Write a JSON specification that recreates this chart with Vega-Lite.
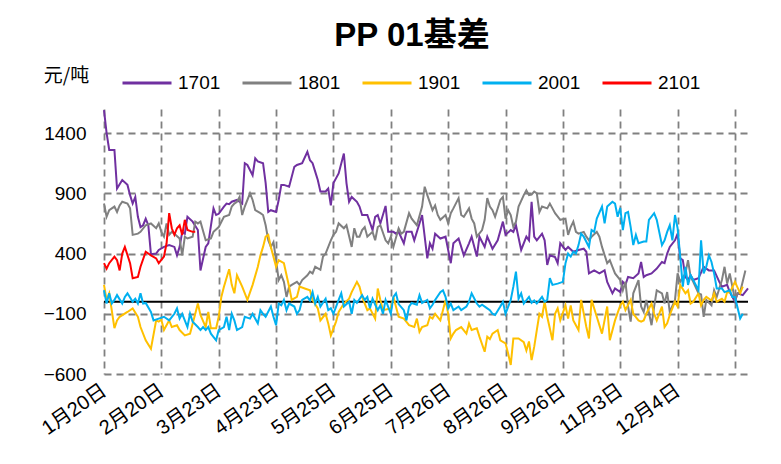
{
"$schema": "https://vega.github.io/schema/vega-lite/v6.json",
"width": 644, "height": 265,
"autosize": {"type": "none"},
"padding": {"left": 104, "top": 109, "right": 33, "bottom": 90},
"background": "white",
"title": {"text": "PP 01基差", "fontSize": 33, "fontWeight": "bold", "font": "Liberation Sans, Noto Sans CJK SC", "anchor": "middle", "frame": "group", "dx": -14, "offset": 4, "color": "black"},
"config": {"view": {"stroke": null}, "axis": {"labelColor": "black", "labelFont": "Liberation Sans, Noto Sans CJK SC"}},
"layer": [
{"data": {"values": [{"zero": 0}]}, "mark": {"type": "rule", "color": "black", "strokeWidth": 2}, "encoding": {"y": {"field": "zero", "type": "quantitative"}}},
{"data": {"values": [
{"c":"1701","d":0,"v":1590},{"c":"1701","d":1,"v":1400},{"c":"1701","d":2,"v":1260},{"c":"1701","d":4,"v":1260},{"c":"1701","d":5,"v":940},{"c":"1701","d":7,"v":1010},{"c":"1701","d":9,"v":970},{"c":"1701","d":10,"v":885},{"c":"1701","d":11,"v":815},{"c":"1701","d":12,"v":870},{"c":"1701","d":13,"v":705},{"c":"1701","d":14,"v":620},{"c":"1701","d":15,"v":635},{"c":"1701","d":16,"v":690},{"c":"1701","d":17,"v":635},{"c":"1701","d":18,"v":395},{"c":"1701","d":20,"v":400},{"c":"1701","d":21,"v":430},{"c":"1701","d":23,"v":455},{"c":"1701","d":25,"v":470},{"c":"1701","d":27,"v":455},{"c":"1701","d":28,"v":385},{"c":"1701","d":29,"v":455},{"c":"1701","d":30,"v":580},{"c":"1701","d":31,"v":565},{"c":"1701","d":32,"v":705},{"c":"1701","d":34,"v":665},{"c":"1701","d":36,"v":595},{"c":"1701","d":37,"v":260},{"c":"1701","d":39,"v":455},{"c":"1701","d":40,"v":485},{"c":"1701","d":42,"v":775},{"c":"1701","d":43,"v":720},{"c":"1701","d":44,"v":730},{"c":"1701","d":46,"v":790},{"c":"1701","d":47,"v":815},{"c":"1701","d":48,"v":810},{"c":"1701","d":49,"v":830},{"c":"1701","d":51,"v":845},{"c":"1701","d":53,"v":815},{"c":"1701","d":54,"v":1150},{"c":"1701","d":55,"v":1135},{"c":"1701","d":57,"v":1050},{"c":"1701","d":58,"v":1190},{"c":"1701","d":59,"v":1165},{"c":"1701","d":61,"v":1150},{"c":"1701","d":62,"v":985},{"c":"1701","d":63,"v":745},{"c":"1701","d":64,"v":760},{"c":"1701","d":66,"v":745},{"c":"1701","d":67,"v":845},{"c":"1701","d":68,"v":970},{"c":"1701","d":69,"v":970},{"c":"1701","d":71,"v":955},{"c":"1701","d":73,"v":1120},{"c":"1701","d":74,"v":1135},{"c":"1701","d":76,"v":1150},{"c":"1701","d":78,"v":1245},{"c":"1701","d":79,"v":1175},{"c":"1701","d":80,"v":1150},{"c":"1701","d":81,"v":1080},{"c":"1701","d":82,"v":1010},{"c":"1701","d":83,"v":915},{"c":"1701","d":85,"v":915},{"c":"1701","d":86,"v":940},{"c":"1701","d":87,"v":800},{"c":"1701","d":88,"v":985},{"c":"1701","d":90,"v":1065},{"c":"1701","d":92,"v":1230},{"c":"1701","d":93,"v":985},{"c":"1701","d":94,"v":830},{"c":"1701","d":95,"v":870},{"c":"1701","d":97,"v":830},{"c":"1701","d":98,"v":790},{"c":"1701","d":99,"v":720},{"c":"1701","d":101,"v":720},{"c":"1701","d":103,"v":595},{"c":"1701","d":104,"v":705},{"c":"1701","d":105,"v":720},{"c":"1701","d":106,"v":650},{"c":"1701","d":108,"v":795},{"c":"1701","d":109,"v":580},{"c":"1701","d":111,"v":580},{"c":"1701","d":112,"v":565},{"c":"1701","d":113,"v":580},{"c":"1701","d":115,"v":485},{"c":"1701","d":116,"v":580},{"c":"1701","d":118,"v":580},{"c":"1701","d":119,"v":510},{"c":"1701","d":121,"v":650},{"c":"1701","d":122,"v":720},{"c":"1701","d":124,"v":360},{"c":"1701","d":125,"v":485},{"c":"1701","d":126,"v":440},{"c":"1701","d":127,"v":565},{"c":"1701","d":129,"v":525},{"c":"1701","d":131,"v":540},{"c":"1701","d":133,"v":320},{"c":"1701","d":134,"v":485},{"c":"1701","d":136,"v":525},{"c":"1701","d":137,"v":455},{"c":"1701","d":138,"v":385},{"c":"1701","d":140,"v":485},{"c":"1701","d":141,"v":540},{"c":"1701","d":143,"v":375},{"c":"1701","d":144,"v":540},{"c":"1701","d":146,"v":455},{"c":"1701","d":147,"v":540},{"c":"1701","d":149,"v":440},{"c":"1701","d":151,"v":510},{"c":"1701","d":153,"v":665},{"c":"1701","d":154,"v":555},{"c":"1701","d":156,"v":595},{"c":"1701","d":157,"v":580},{"c":"1701","d":158,"v":635},{"c":"1701","d":160,"v":430},{"c":"1701","d":162,"v":540},{"c":"1701","d":163,"v":510},{"c":"1701","d":164,"v":830},{"c":"1701","d":165,"v":540},{"c":"1701","d":166,"v":510},{"c":"1701","d":168,"v":565},{"c":"1701","d":169,"v":510},{"c":"1701","d":170,"v":305},{"c":"1701","d":171,"v":385},{"c":"1701","d":173,"v":370},{"c":"1701","d":174,"v":320},{"c":"1701","d":175,"v":485},{"c":"1701","d":177,"v":430},{"c":"1701","d":178,"v":455},{"c":"1701","d":180,"v":415},{"c":"1701","d":182,"v":430},{"c":"1701","d":184,"v":440},{"c":"1701","d":185,"v":415},{"c":"1701","d":186,"v":235},{"c":"1701","d":188,"v":260},{"c":"1701","d":190,"v":235},{"c":"1701","d":192,"v":260},{"c":"1701","d":193,"v":165},{"c":"1701","d":195,"v":70},{"c":"1701","d":196,"v":110},{"c":"1701","d":198,"v":80},{"c":"1701","d":199,"v":165},{"c":"1701","d":200,"v":140},{"c":"1701","d":201,"v":205},{"c":"1701","d":203,"v":195},{"c":"1701","d":205,"v":235},{"c":"1701","d":206,"v":330},{"c":"1701","d":207,"v":205},{"c":"1701","d":208,"v":220},{"c":"1701","d":210,"v":235},{"c":"1701","d":212,"v":275},{"c":"1701","d":214,"v":330},{"c":"1701","d":215,"v":320},{"c":"1701","d":216,"v":400},{"c":"1701","d":217,"v":455},{"c":"1701","d":219,"v":510},{"c":"1701","d":220,"v":565},{"c":"1701","d":221,"v":360},{"c":"1701","d":222,"v":345},{"c":"1701","d":223,"v":205},{"c":"1701","d":224,"v":180},{"c":"1701","d":225,"v":220},{"c":"1701","d":226,"v":180},{"c":"1701","d":228,"v":195},{"c":"1701","d":230,"v":290},{"c":"1701","d":231,"v":275},{"c":"1701","d":232,"v":260},{"c":"1701","d":234,"v":260},{"c":"1701","d":236,"v":165},{"c":"1701","d":237,"v":125},{"c":"1701","d":239,"v":140},{"c":"1701","d":240,"v":80},{"c":"1701","d":242,"v":0},{"c":"1701","d":243,"v":70},{"c":"1701","d":245,"v":55},{"c":"1701","d":247,"v":110},
{"c":"1801","d":0,"v":815},{"c":"1801","d":1,"v":705},{"c":"1801","d":2,"v":760},{"c":"1801","d":4,"v":790},{"c":"1801","d":5,"v":745},{"c":"1801","d":6,"v":800},{"c":"1801","d":7,"v":830},{"c":"1801","d":9,"v":815},{"c":"1801","d":10,"v":775},{"c":"1801","d":11,"v":555},{"c":"1801","d":13,"v":565},{"c":"1801","d":14,"v":580},{"c":"1801","d":16,"v":635},{"c":"1801","d":18,"v":650},{"c":"1801","d":20,"v":610},{"c":"1801","d":21,"v":650},{"c":"1801","d":22,"v":580},{"c":"1801","d":23,"v":540},{"c":"1801","d":24,"v":650},{"c":"1801","d":25,"v":555},{"c":"1801","d":26,"v":580},{"c":"1801","d":27,"v":565},{"c":"1801","d":29,"v":525},{"c":"1801","d":30,"v":385},{"c":"1801","d":31,"v":540},{"c":"1801","d":32,"v":525},{"c":"1801","d":34,"v":540},{"c":"1801","d":35,"v":665},{"c":"1801","d":36,"v":650},{"c":"1801","d":37,"v":665},{"c":"1801","d":39,"v":510},{"c":"1801","d":41,"v":525},{"c":"1801","d":42,"v":580},{"c":"1801","d":44,"v":620},{"c":"1801","d":46,"v":705},{"c":"1801","d":48,"v":720},{"c":"1801","d":49,"v":790},{"c":"1801","d":50,"v":815},{"c":"1801","d":51,"v":830},{"c":"1801","d":52,"v":870},{"c":"1801","d":53,"v":720},{"c":"1801","d":54,"v":790},{"c":"1801","d":56,"v":900},{"c":"1801","d":57,"v":845},{"c":"1801","d":58,"v":760},{"c":"1801","d":60,"v":735},{"c":"1801","d":61,"v":720},{"c":"1801","d":62,"v":635},{"c":"1801","d":63,"v":510},{"c":"1801","d":64,"v":455},{"c":"1801","d":65,"v":495},{"c":"1801","d":66,"v":345},{"c":"1801","d":67,"v":180},{"c":"1801","d":68,"v":220},{"c":"1801","d":69,"v":165},{"c":"1801","d":70,"v":40},{"c":"1801","d":71,"v":125},{"c":"1801","d":72,"v":140},{"c":"1801","d":74,"v":165},{"c":"1801","d":75,"v":140},{"c":"1801","d":76,"v":180},{"c":"1801","d":78,"v":220},{"c":"1801","d":79,"v":250},{"c":"1801","d":80,"v":235},{"c":"1801","d":81,"v":290},{"c":"1801","d":83,"v":265},{"c":"1801","d":84,"v":375},{"c":"1801","d":85,"v":400},{"c":"1801","d":87,"v":510},{"c":"1801","d":88,"v":555},{"c":"1801","d":89,"v":580},{"c":"1801","d":90,"v":650},{"c":"1801","d":92,"v":610},{"c":"1801","d":93,"v":635},{"c":"1801","d":95,"v":455},{"c":"1801","d":96,"v":610},{"c":"1801","d":97,"v":540},{"c":"1801","d":98,"v":540},{"c":"1801","d":99,"v":595},{"c":"1801","d":100,"v":620},{"c":"1801","d":101,"v":540},{"c":"1801","d":103,"v":580},{"c":"1801","d":104,"v":510},{"c":"1801","d":105,"v":620},{"c":"1801","d":106,"v":635},{"c":"1801","d":108,"v":510},{"c":"1801","d":109,"v":485},{"c":"1801","d":110,"v":540},{"c":"1801","d":111,"v":455},{"c":"1801","d":113,"v":610},{"c":"1801","d":114,"v":565},{"c":"1801","d":115,"v":580},{"c":"1801","d":117,"v":735},{"c":"1801","d":118,"v":690},{"c":"1801","d":120,"v":635},{"c":"1801","d":122,"v":790},{"c":"1801","d":123,"v":955},{"c":"1801","d":124,"v":885},{"c":"1801","d":126,"v":760},{"c":"1801","d":127,"v":800},{"c":"1801","d":128,"v":720},{"c":"1801","d":129,"v":680},{"c":"1801","d":131,"v":720},{"c":"1801","d":132,"v":650},{"c":"1801","d":133,"v":735},{"c":"1801","d":134,"v":775},{"c":"1801","d":136,"v":860},{"c":"1801","d":137,"v":720},{"c":"1801","d":138,"v":705},{"c":"1801","d":140,"v":775},{"c":"1801","d":141,"v":690},{"c":"1801","d":142,"v":650},{"c":"1801","d":143,"v":540},{"c":"1801","d":145,"v":595},{"c":"1801","d":146,"v":680},{"c":"1801","d":147,"v":860},{"c":"1801","d":148,"v":790},{"c":"1801","d":149,"v":760},{"c":"1801","d":150,"v":705},{"c":"1801","d":152,"v":845},{"c":"1801","d":153,"v":870},{"c":"1801","d":154,"v":690},{"c":"1801","d":155,"v":760},{"c":"1801","d":156,"v":720},{"c":"1801","d":157,"v":620},{"c":"1801","d":158,"v":665},{"c":"1801","d":159,"v":790},{"c":"1801","d":161,"v":885},{"c":"1801","d":162,"v":925},{"c":"1801","d":163,"v":885},{"c":"1801","d":164,"v":890},{"c":"1801","d":165,"v":915},{"c":"1801","d":166,"v":900},{"c":"1801","d":167,"v":745},{"c":"1801","d":168,"v":790},{"c":"1801","d":170,"v":775},{"c":"1801","d":171,"v":815},{"c":"1801","d":172,"v":775},{"c":"1801","d":173,"v":735},{"c":"1801","d":175,"v":680},{"c":"1801","d":177,"v":690},{"c":"1801","d":178,"v":555},{"c":"1801","d":179,"v":620},{"c":"1801","d":180,"v":665},{"c":"1801","d":181,"v":580},{"c":"1801","d":182,"v":565},{"c":"1801","d":184,"v":580},{"c":"1801","d":185,"v":540},{"c":"1801","d":186,"v":510},{"c":"1801","d":187,"v":540},{"c":"1801","d":189,"v":580},{"c":"1801","d":190,"v":540},{"c":"1801","d":191,"v":455},{"c":"1801","d":193,"v":320},{"c":"1801","d":194,"v":345},{"c":"1801","d":195,"v":290},{"c":"1801","d":196,"v":235},{"c":"1801","d":198,"v":180},{"c":"1801","d":199,"v":95},{"c":"1801","d":200,"v":165},{"c":"1801","d":201,"v":-40},{"c":"1801","d":202,"v":-165},{"c":"1801","d":203,"v":70},{"c":"1801","d":205,"v":180},{"c":"1801","d":206,"v":-40},{"c":"1801","d":207,"v":-85},{"c":"1801","d":208,"v":15},{"c":"1801","d":210,"v":-195},{"c":"1801","d":211,"v":-40},{"c":"1801","d":212,"v":95},{"c":"1801","d":214,"v":70},{"c":"1801","d":215,"v":-15},{"c":"1801","d":216,"v":80},{"c":"1801","d":217,"v":-85},{"c":"1801","d":219,"v":15},{"c":"1801","d":220,"v":235},{"c":"1801","d":221,"v":165},{"c":"1801","d":223,"v":235},{"c":"1801","d":224,"v":345},{"c":"1801","d":225,"v":205},{"c":"1801","d":226,"v":165},{"c":"1801","d":228,"v":70},{"c":"1801","d":229,"v":60},{"c":"1801","d":230,"v":-125},{"c":"1801","d":231,"v":15},{"c":"1801","d":233,"v":-30},{"c":"1801","d":234,"v":95},{"c":"1801","d":235,"v":40},{"c":"1801","d":237,"v":180},{"c":"1801","d":238,"v":290},{"c":"1801","d":239,"v":150},{"c":"1801","d":240,"v":235},{"c":"1801","d":242,"v":15},{"c":"1801","d":243,"v":70},{"c":"1801","d":244,"v":80},{"c":"1801","d":246,"v":260},
{"c":"1901","d":0,"v":140},{"c":"1901","d":1,"v":15},{"c":"1901","d":2,"v":70},{"c":"1901","d":4,"v":-220},{"c":"1901","d":5,"v":-155},{"c":"1901","d":6,"v":-125},{"c":"1901","d":9,"v":-85},{"c":"1901","d":11,"v":-55},{"c":"1901","d":13,"v":-125},{"c":"1901","d":14,"v":-210},{"c":"1901","d":16,"v":-320},{"c":"1901","d":18,"v":-390},{"c":"1901","d":20,"v":-155},{"c":"1901","d":21,"v":-165},{"c":"1901","d":22,"v":-150},{"c":"1901","d":23,"v":-235},{"c":"1901","d":25,"v":-155},{"c":"1901","d":26,"v":-210},{"c":"1901","d":28,"v":-195},{"c":"1901","d":29,"v":-235},{"c":"1901","d":31,"v":-280},{"c":"1901","d":33,"v":-265},{"c":"1901","d":35,"v":-100},{"c":"1901","d":36,"v":-15},{"c":"1901","d":37,"v":-110},{"c":"1901","d":39,"v":-210},{"c":"1901","d":40,"v":-85},{"c":"1901","d":41,"v":-220},{"c":"1901","d":43,"v":-220},{"c":"1901","d":44,"v":-125},{"c":"1901","d":45,"v":40},{"c":"1901","d":46,"v":125},{"c":"1901","d":48,"v":270},{"c":"1901","d":49,"v":140},{"c":"1901","d":50,"v":70},{"c":"1901","d":51,"v":220},{"c":"1901","d":53,"v":125},{"c":"1901","d":55,"v":15},{"c":"1901","d":57,"v":140},{"c":"1901","d":59,"v":290},{"c":"1901","d":60,"v":385},{"c":"1901","d":61,"v":455},{"c":"1901","d":62,"v":540},{"c":"1901","d":63,"v":555},{"c":"1901","d":64,"v":455},{"c":"1901","d":66,"v":290},{"c":"1901","d":67,"v":345},{"c":"1901","d":69,"v":320},{"c":"1901","d":71,"v":125},{"c":"1901","d":72,"v":15},{"c":"1901","d":74,"v":40},{"c":"1901","d":75,"v":125},{"c":"1901","d":77,"v":110},{"c":"1901","d":79,"v":95},{"c":"1901","d":80,"v":15},{"c":"1901","d":82,"v":-55},{"c":"1901","d":83,"v":-155},{"c":"1901","d":85,"v":-100},{"c":"1901","d":86,"v":-180},{"c":"1901","d":87,"v":-280},{"c":"1901","d":89,"v":-165},{"c":"1901","d":90,"v":-85},{"c":"1901","d":92,"v":-15},{"c":"1901","d":94,"v":25},{"c":"1901","d":95,"v":80},{"c":"1901","d":97,"v":165},{"c":"1901","d":98,"v":125},{"c":"1901","d":99,"v":40},{"c":"1901","d":101,"v":-70},{"c":"1901","d":102,"v":-55},{"c":"1901","d":104,"v":-140},{"c":"1901","d":105,"v":110},{"c":"1901","d":106,"v":15},{"c":"1901","d":107,"v":-70},{"c":"1901","d":109,"v":-60},{"c":"1901","d":110,"v":-55},{"c":"1901","d":111,"v":40},{"c":"1901","d":113,"v":-125},{"c":"1901","d":115,"v":-140},{"c":"1901","d":117,"v":-195},{"c":"1901","d":119,"v":-210},{"c":"1901","d":120,"v":-140},{"c":"1901","d":121,"v":-250},{"c":"1901","d":122,"v":-210},{"c":"1901","d":124,"v":-195},{"c":"1901","d":125,"v":-125},{"c":"1901","d":126,"v":-140},{"c":"1901","d":127,"v":-100},{"c":"1901","d":129,"v":-155},{"c":"1901","d":131,"v":15},{"c":"1901","d":132,"v":-100},{"c":"1901","d":133,"v":-305},{"c":"1901","d":134,"v":-265},{"c":"1901","d":135,"v":-235},{"c":"1901","d":137,"v":-210},{"c":"1901","d":139,"v":-265},{"c":"1901","d":140,"v":-180},{"c":"1901","d":141,"v":-235},{"c":"1901","d":143,"v":-220},{"c":"1901","d":144,"v":-290},{"c":"1901","d":146,"v":-415},{"c":"1901","d":147,"v":-290},{"c":"1901","d":148,"v":-310},{"c":"1901","d":149,"v":-265},{"c":"1901","d":151,"v":-235},{"c":"1901","d":152,"v":-320},{"c":"1901","d":154,"v":-345},{"c":"1901","d":155,"v":-430},{"c":"1901","d":156,"v":-525},{"c":"1901","d":157,"v":-305},{"c":"1901","d":159,"v":-305},{"c":"1901","d":161,"v":-335},{"c":"1901","d":162,"v":-405},{"c":"1901","d":163,"v":-330},{"c":"1901","d":164,"v":-485},{"c":"1901","d":165,"v":-375},{"c":"1901","d":166,"v":-235},{"c":"1901","d":167,"v":-100},{"c":"1901","d":168,"v":-125},{"c":"1901","d":169,"v":0},{"c":"1901","d":170,"v":-125},{"c":"1901","d":172,"v":-320},{"c":"1901","d":173,"v":-100},{"c":"1901","d":174,"v":-55},{"c":"1901","d":175,"v":-155},{"c":"1901","d":177,"v":-30},{"c":"1901","d":178,"v":-140},{"c":"1901","d":179,"v":-30},{"c":"1901","d":180,"v":-155},{"c":"1901","d":182,"v":-235},{"c":"1901","d":183,"v":15},{"c":"1901","d":185,"v":-210},{"c":"1901","d":186,"v":-305},{"c":"1901","d":187,"v":15},{"c":"1901","d":189,"v":-125},{"c":"1901","d":191,"v":-265},{"c":"1901","d":193,"v":-40},{"c":"1901","d":194,"v":-320},{"c":"1901","d":196,"v":-155},{"c":"1901","d":198,"v":-30},{"c":"1901","d":199,"v":0},{"c":"1901","d":200,"v":-70},{"c":"1901","d":202,"v":15},{"c":"1901","d":203,"v":-100},{"c":"1901","d":205,"v":-155},{"c":"1901","d":206,"v":-165},{"c":"1901","d":207,"v":-155},{"c":"1901","d":208,"v":-100},{"c":"1901","d":210,"v":-15},{"c":"1901","d":211,"v":-100},{"c":"1901","d":212,"v":-155},{"c":"1901","d":214,"v":-40},{"c":"1901","d":215,"v":-210},{"c":"1901","d":216,"v":-180},{"c":"1901","d":217,"v":-110},{"c":"1901","d":219,"v":0},{"c":"1901","d":220,"v":-40},{"c":"1901","d":221,"v":140},{"c":"1901","d":223,"v":70},{"c":"1901","d":224,"v":95},{"c":"1901","d":225,"v":-15},{"c":"1901","d":226,"v":0},{"c":"1901","d":228,"v":70},{"c":"1901","d":229,"v":-30},{"c":"1901","d":230,"v":15},{"c":"1901","d":231,"v":40},{"c":"1901","d":233,"v":10},{"c":"1901","d":234,"v":70},{"c":"1901","d":235,"v":0},{"c":"1901","d":237,"v":25},{"c":"1901","d":238,"v":0},{"c":"1901","d":239,"v":80},{"c":"1901","d":240,"v":75},{"c":"1901","d":242,"v":165},{"c":"1901","d":244,"v":70},{"c":"1901","d":245,"v":125},
{"c":"2001","d":0,"v":95},{"c":"2001","d":1,"v":-15},{"c":"2001","d":2,"v":70},{"c":"2001","d":3,"v":-15},{"c":"2001","d":4,"v":15},{"c":"2001","d":5,"v":55},{"c":"2001","d":7,"v":-15},{"c":"2001","d":8,"v":40},{"c":"2001","d":9,"v":70},{"c":"2001","d":11,"v":0},{"c":"2001","d":12,"v":25},{"c":"2001","d":13,"v":-15},{"c":"2001","d":14,"v":70},{"c":"2001","d":15,"v":-15},{"c":"2001","d":16,"v":-10},{"c":"2001","d":18,"v":-85},{"c":"2001","d":19,"v":-155},{"c":"2001","d":21,"v":-140},{"c":"2001","d":23,"v":-125},{"c":"2001","d":25,"v":-155},{"c":"2001","d":27,"v":-100},{"c":"2001","d":28,"v":-55},{"c":"2001","d":29,"v":-140},{"c":"2001","d":30,"v":-100},{"c":"2001","d":32,"v":-210},{"c":"2001","d":33,"v":-100},{"c":"2001","d":34,"v":-165},{"c":"2001","d":36,"v":-210},{"c":"2001","d":37,"v":-235},{"c":"2001","d":38,"v":-210},{"c":"2001","d":39,"v":-235},{"c":"2001","d":40,"v":-210},{"c":"2001","d":41,"v":-265},{"c":"2001","d":43,"v":-320},{"c":"2001","d":44,"v":-235},{"c":"2001","d":46,"v":-210},{"c":"2001","d":47,"v":-125},{"c":"2001","d":48,"v":-235},{"c":"2001","d":49,"v":-100},{"c":"2001","d":50,"v":-155},{"c":"2001","d":51,"v":-235},{"c":"2001","d":53,"v":-210},{"c":"2001","d":54,"v":-125},{"c":"2001","d":56,"v":-140},{"c":"2001","d":57,"v":-100},{"c":"2001","d":59,"v":-180},{"c":"2001","d":60,"v":-70},{"c":"2001","d":61,"v":-100},{"c":"2001","d":62,"v":-125},{"c":"2001","d":64,"v":-40},{"c":"2001","d":65,"v":-125},{"c":"2001","d":66,"v":-195},{"c":"2001","d":67,"v":-15},{"c":"2001","d":68,"v":-30},{"c":"2001","d":69,"v":15},{"c":"2001","d":70,"v":-70},{"c":"2001","d":71,"v":-15},{"c":"2001","d":73,"v":-40},{"c":"2001","d":74,"v":-100},{"c":"2001","d":75,"v":-70},{"c":"2001","d":76,"v":15},{"c":"2001","d":78,"v":40},{"c":"2001","d":79,"v":10},{"c":"2001","d":80,"v":80},{"c":"2001","d":81,"v":-15},{"c":"2001","d":82,"v":40},{"c":"2001","d":83,"v":-40},{"c":"2001","d":85,"v":25},{"c":"2001","d":86,"v":-70},{"c":"2001","d":87,"v":-55},{"c":"2001","d":88,"v":-100},{"c":"2001","d":90,"v":15},{"c":"2001","d":91,"v":70},{"c":"2001","d":92,"v":-40},{"c":"2001","d":94,"v":0},{"c":"2001","d":95,"v":-100},{"c":"2001","d":96,"v":15},{"c":"2001","d":97,"v":-10},{"c":"2001","d":99,"v":55},{"c":"2001","d":100,"v":15},{"c":"2001","d":101,"v":40},{"c":"2001","d":102,"v":-55},{"c":"2001","d":103,"v":25},{"c":"2001","d":105,"v":-70},{"c":"2001","d":106,"v":-30},{"c":"2001","d":107,"v":-100},{"c":"2001","d":108,"v":15},{"c":"2001","d":110,"v":-100},{"c":"2001","d":111,"v":40},{"c":"2001","d":112,"v":70},{"c":"2001","d":113,"v":-20},{"c":"2001","d":115,"v":-70},{"c":"2001","d":116,"v":-155},{"c":"2001","d":117,"v":-40},{"c":"2001","d":118,"v":-10},{"c":"2001","d":120,"v":-25},{"c":"2001","d":121,"v":55},{"c":"2001","d":122,"v":-10},{"c":"2001","d":124,"v":15},{"c":"2001","d":125,"v":-55},{"c":"2001","d":126,"v":-25},{"c":"2001","d":127,"v":15},{"c":"2001","d":129,"v":80},{"c":"2001","d":130,"v":95},{"c":"2001","d":131,"v":40},{"c":"2001","d":132,"v":-55},{"c":"2001","d":133,"v":-15},{"c":"2001","d":134,"v":-70},{"c":"2001","d":136,"v":-40},{"c":"2001","d":137,"v":-70},{"c":"2001","d":139,"v":-40},{"c":"2001","d":140,"v":0},{"c":"2001","d":141,"v":70},{"c":"2001","d":143,"v":-15},{"c":"2001","d":144,"v":-40},{"c":"2001","d":145,"v":-25},{"c":"2001","d":147,"v":-55},{"c":"2001","d":148,"v":-70},{"c":"2001","d":149,"v":-100},{"c":"2001","d":150,"v":-110},{"c":"2001","d":152,"v":-40},{"c":"2001","d":153,"v":0},{"c":"2001","d":154,"v":-100},{"c":"2001","d":156,"v":15},{"c":"2001","d":157,"v":125},{"c":"2001","d":158,"v":250},{"c":"2001","d":159,"v":25},{"c":"2001","d":160,"v":70},{"c":"2001","d":161,"v":-15},{"c":"2001","d":163,"v":40},{"c":"2001","d":164,"v":-10},{"c":"2001","d":165,"v":10},{"c":"2001","d":166,"v":-15},{"c":"2001","d":168,"v":40},{"c":"2001","d":169,"v":0},{"c":"2001","d":170,"v":15},{"c":"2001","d":171,"v":195},{"c":"2001","d":172,"v":140},{"c":"2001","d":174,"v":150},{"c":"2001","d":176,"v":165},{"c":"2001","d":177,"v":320},{"c":"2001","d":178,"v":400},{"c":"2001","d":179,"v":375},{"c":"2001","d":180,"v":415},{"c":"2001","d":181,"v":400},{"c":"2001","d":182,"v":470},{"c":"2001","d":183,"v":565},{"c":"2001","d":184,"v":540},{"c":"2001","d":186,"v":455},{"c":"2001","d":187,"v":595},{"c":"2001","d":188,"v":580},{"c":"2001","d":189,"v":690},{"c":"2001","d":191,"v":790},{"c":"2001","d":192,"v":650},{"c":"2001","d":193,"v":790},{"c":"2001","d":195,"v":830},{"c":"2001","d":196,"v":815},{"c":"2001","d":197,"v":705},{"c":"2001","d":198,"v":780},{"c":"2001","d":199,"v":595},{"c":"2001","d":200,"v":735},{"c":"2001","d":201,"v":745},{"c":"2001","d":202,"v":620},{"c":"2001","d":203,"v":470},{"c":"2001","d":204,"v":555},{"c":"2001","d":205,"v":485},{"c":"2001","d":207,"v":500},{"c":"2001","d":208,"v":500},{"c":"2001","d":209,"v":680},{"c":"2001","d":211,"v":735},{"c":"2001","d":212,"v":680},{"c":"2001","d":214,"v":470},{"c":"2001","d":215,"v":510},{"c":"2001","d":216,"v":580},{"c":"2001","d":217,"v":635},{"c":"2001","d":218,"v":510},{"c":"2001","d":219,"v":720},{"c":"2001","d":220,"v":610},{"c":"2001","d":221,"v":375},{"c":"2001","d":222,"v":125},{"c":"2001","d":223,"v":290},{"c":"2001","d":224,"v":140},{"c":"2001","d":225,"v":220},{"c":"2001","d":226,"v":180},{"c":"2001","d":228,"v":95},{"c":"2001","d":229,"v":510},{"c":"2001","d":230,"v":235},{"c":"2001","d":231,"v":290},{"c":"2001","d":232,"v":385},{"c":"2001","d":233,"v":330},{"c":"2001","d":234,"v":235},{"c":"2001","d":235,"v":110},{"c":"2001","d":237,"v":110},{"c":"2001","d":238,"v":80},{"c":"2001","d":240,"v":95},{"c":"2001","d":241,"v":40},{"c":"2001","d":242,"v":40},{"c":"2001","d":244,"v":-140},{"c":"2001","d":245,"v":-100},
{"c":"2101","d":0,"v":320},{"c":"2101","d":1,"v":275},{"c":"2101","d":2,"v":320},{"c":"2101","d":4,"v":375},{"c":"2101","d":5,"v":345},{"c":"2101","d":6,"v":260},{"c":"2101","d":7,"v":400},{"c":"2101","d":8,"v":455},{"c":"2101","d":10,"v":320},{"c":"2101","d":11,"v":195},{"c":"2101","d":13,"v":205},{"c":"2101","d":14,"v":290},{"c":"2101","d":16,"v":415},{"c":"2101","d":18,"v":385},{"c":"2101","d":20,"v":360},{"c":"2101","d":21,"v":320},{"c":"2101","d":23,"v":375},{"c":"2101","d":24,"v":485},{"c":"2101","d":25,"v":735},{"c":"2101","d":26,"v":610},{"c":"2101","d":27,"v":555},{"c":"2101","d":28,"v":610},{"c":"2101","d":29,"v":635},{"c":"2101","d":30,"v":555},{"c":"2101","d":31,"v":680},{"c":"2101","d":32,"v":595},{"c":"2101","d":34,"v":580},{"c":"2101","d":35,"v":580}
]},
"mark": {"type": "line", "strokeWidth": 2},
"encoding": {
"x": {"field": "d", "type": "quantitative", "scale": {"domain": [0, 247], "nice": false, "zero": false},
 "axis": {"values": [0,22,44,66,88,110,132,154,176,198,220,242], "labelExpr": "['1月20日','2月20日','3月23日','4月23日','5月25日','6月25日','7月26日','8月26日','9月26日','11月3日','12月4日',''][round(datum.value/22)]", "labelAngle": -35, "labelAlign": "right", "labelBaseline": "middle", "labelFontSize": 20, "labelPadding": 14, "ticks": false, "domain": false, "grid": true, "gridDash": [7,5], "gridColor": "#808080", "gridWidth": 1.8, "title": null, "labelOverlap": false, "labelBound": false, "labelFlush": false}},
"y": {"field": "v", "type": "quantitative", "scale": {"domain": [-600, 1600], "nice": false},
 "axis": {"values": [-600,-100,400,900,1400], "format": "d", "labelFontSize": 19, "labelPadding": 18, "ticks": false, "domain": false, "grid": true, "gridDash": [7,5], "gridColor": "#808080", "gridWidth": 1.8, "title": "元/吨", "titleAngle": 0, "titleX": -38, "titleY": -34, "titleAlign": "center", "titleBaseline": "middle", "titleFontSize": 19, "titleFontWeight": "normal", "titleFont": "Noto Sans CJK SC", "titleColor": "black", "labelOverlap": false}},
"color": {"field": "c", "type": "nominal", "scale": {"domain": ["1701","1801","1901","2001","2101"], "range": ["#7030A0","#808080","#FFC000","#00B0F0","#FF0000"]},
 "legend": {"title": null, "orient": "none", "direction": "horizontal", "legendX": 17, "legendY": -52, "symbolType": "stroke", "symbolSize": 2401, "symbolStrokeWidth": 3, "labelFontSize": 19, "labelFont": "Liberation Sans", "labelColor": "black", "columnPadding": 15, "labelOffset": 5}}
}}
]
}
